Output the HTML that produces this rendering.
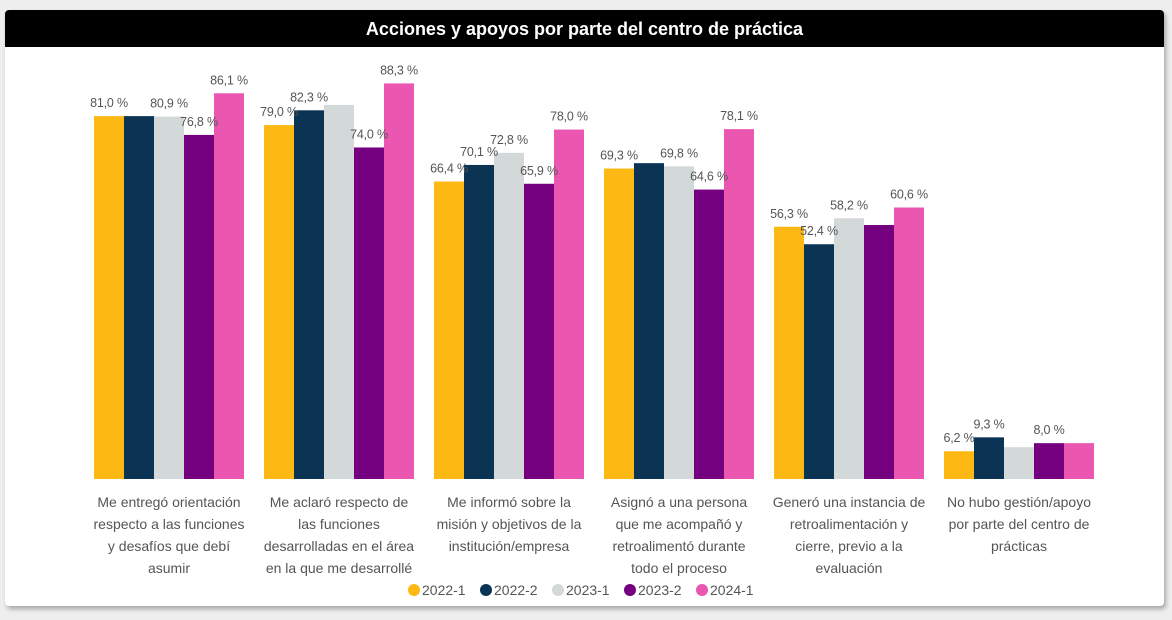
<!DOCTYPE html>
<html><head><meta charset="utf-8"><style>
body{margin:0;width:1172px;height:620px;background:#eeeeee;font-family:"Liberation Sans",sans-serif;overflow:hidden}
#card{position:absolute;left:5px;top:10px;width:1159px;height:596px;background:#fff;border-radius:4px;box-shadow:2px 3px 5px rgba(0,0,0,0.3)}
#title{position:absolute;left:5px;top:10px;width:1159px;height:37px;background:#000;color:#fff;font-size:18px;font-weight:bold;text-align:center;line-height:39px;border-radius:4px 4px 0 0}
svg{position:absolute;left:0;top:0}
</style></head><body>
<div id="card"></div>
<div id="title">Acciones y apoyos por parte del centro de práctica</div>
<svg id="chart" width="1172" height="620"></svg>
<script>
const categories=[
["Me entregó orientación","respecto a las funciones","y desafíos que debí","asumir"],
["Me aclaró respecto de","las funciones","desarrolladas en el área","en la que me desarrollé"],
["Me informó sobre la","misión y objetivos de la","institución/empresa"],
["Asignó a una persona","que me acompañó y","retroalimentó durante","todo el proceso"],
["Generó una instancia de","retroalimentación y","cierre, previo a la","evaluación"],
["No hubo gestión/apoyo","por parte del centro de","prácticas"]];
const seriesNames=["2022-1","2022-2","2023-1","2023-2","2024-1"];
const s2022_1=[81.0,79.0,66.4,69.3,56.3,6.2];
const s2022_2=[81.0,82.3,70.1,70.5,52.4,9.3];
const s2023_1=[80.9,83.5,72.8,69.8,58.2,7.1];
const s2023_2=[76.8,74.0,65.9,64.6,56.7,8.0];
const s2024_1=[86.1,88.3,78.0,78.1,60.6,8.0];
// showLabel[series][category]
const showLabel=[[1,1,1,1,1,1],[0,1,1,0,1,1],[1,0,1,1,1,0],[1,1,1,1,0,1],[1,1,1,1,1,0]];
const series=[s2022_1,s2022_2,s2023_1,s2023_2,s2024_1];
const colors=["#FDB813","#0B3354","#D3D8D9","#74007F","#EA56B0"];
const svg=document.getElementById('chart');const NS="http://www.w3.org/2000/svg";
const base=479,scale=4.48,g0=94,gStep=170,bw=30;
const y=v=>base-v*scale;
function mk(t,a){const e=document.createElementNS(NS,t);for(const k in a)e.setAttribute(k,a[k]);svg.appendChild(e);return e;}
categories.forEach((c,i)=>{
 series.forEach((s,j)=>{
  const x=g0+i*gStep+j*bw;
  const r=mk('rect',{x:x,y:y(s[i]),width:bw,height:s[i]*scale,fill:colors[j]});
  
  
 });
 series.forEach((s,j)=>{
  if(!showLabel[j][i])return;
  const x=g0+i*gStep+j*bw+bw/2;
  const t=mk('text',{x:x,y:y(s[i])-9,'text-anchor':'middle','font-size':'12.5','letter-spacing':'-0.2',fill:'#555'});
  t.textContent=s[i].toFixed(1).replace('.',',')+' %';
  
  
 });
 const cx=g0+i*gStep+75;
 c.forEach((ln,k)=>{
  const t=mk('text',{x:cx,y:507+k*22,'text-anchor':'middle','font-size':'14',fill:'#555'});
  t.textContent=ln;
  
  
 });
});
let lx=408;
seriesNames.forEach((n,j)=>{
 const c=mk('circle',{cx:lx+6,cy:590,r:6,fill:colors[j]});
 
 
 const t=mk('text',{x:lx+14,y:595,'font-size':'14',fill:'#555'});
 t.textContent=n;
 
 
 lx+=72;
});
</script>
</body></html>
